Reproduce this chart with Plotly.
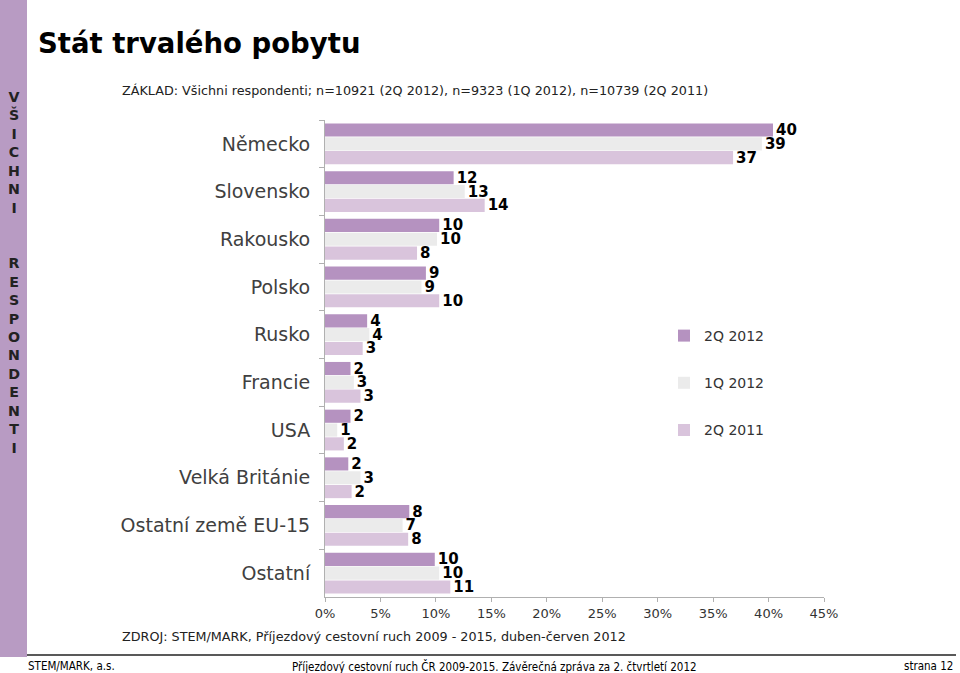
import plotly.graph_objects as go

categories = ["Německo", "Slovensko", "Rakousko", "Polsko", "Rusko", "Francie", "USA",
              "Velká Británie", "Ostatní země EU-15", "Ostatní"]
series_names = ["2Q 2012", "1Q 2012", "2Q 2011"]
v_2q2012 = [40.4, 11.6, 10.3, 9.1, 3.8, 2.3, 2.3, 2.1, 7.6, 9.9]
v_1q2012 = [39.4, 12.6, 10.1, 8.7, 4.0, 2.6, 1.1, 3.2, 7.0, 10.3]
v_2q2011 = [36.8, 14.4, 8.3, 10.3, 3.4, 3.2, 1.7, 2.4, 7.5, 11.3]
x_ticks = [0, 5, 10, 15, 20, 25, 30, 35, 40, 45]
x_ticktext = [f"{t}%" for t in x_ticks]

colors = ["#b592c0", "#ebebeb", "#d9c4dc"]
series_values = [v_2q2012, v_1q2012, v_2q2011]

W, H = 960, 673
L, R, T, B = 325, 824, 120, 597


def xp(px):
    return (px - L) / (R - L)


def yp(py):
    return (B - py) / (B - T)


fig = go.Figure()
for name, vals, col in zip(series_names, series_values, colors):
    fig.add_trace(go.Bar(
        y=categories, x=vals, name=name, orientation="h",
        marker=dict(color=col, line=dict(width=0)),
        text=vals, texttemplate="%{x:.0f}", textposition="outside",
        constraintext="none", cliponaxis=False,
        textfont=dict(family="DejaVu Sans", size=15, color="#000000", weight="bold"),
        legendgroup=name,
    ))

fig.update_layout(
    width=W, height=H,
    margin=dict(l=L, r=W - R, t=T, b=H - B),
    paper_bgcolor="white", plot_bgcolor="white",
    barmode="group", bargap=0.13, bargroupgap=0.05,
    font=dict(family="DejaVu Sans", color="#333333"),
    showlegend=True,
    legend=dict(x=xp(664), y=yp(320), xanchor="left", yanchor="top",
                traceorder="grouped", tracegroupgap=26,
                font=dict(family="DejaVu Sans", size=14, color="#333333"),
                bgcolor="rgba(0,0,0,0)"),
    xaxis=dict(range=[0, 45], tickvals=x_ticks, ticktext=x_ticktext,
               showgrid=False, zeroline=False, showline=True, linecolor="#b0b0b0",
               ticks="outside", ticklen=4, tickcolor="#b0b0b0",
               tickfont=dict(family="DejaVu Sans", size=13, color="#333333")),
    yaxis=dict(autorange="reversed", showgrid=False, zeroline=False,
               showline=True, linecolor="#b0b0b0",
               ticks="outside", ticklen=5, tickcolor="#b0b0b0", tickson="boundaries",
               ticklabelstandoff=10,
               tickfont=dict(family="DejaVu Sans", size=19, color="#404040")),
)

# sidebar band and footer rule
fig.add_shape(type="rect", xref="paper", yref="paper",
              x0=xp(0), x1=xp(27), y0=yp(657), y1=yp(0),
              fillcolor="#b89bc3", line=dict(width=0), layer="below")
fig.add_shape(type="line", xref="paper", yref="paper",
              x0=xp(27), x1=xp(956), y0=yp(655), y1=yp(655),
              line=dict(color="#222222", width=1.5))

side_text = "<br>".join(list("VŠICHNI") + ["", ""] + list("RESPONDENTI"))
footer_font = dict(family="DejaVu Sans Condensed, DejaVu Sans", size=11.5, color="#000000")
annotations = [
    dict(text="<b>Stát trvalého pobytu</b>", x=xp(36), y=yp(43), xanchor="left", yanchor="middle",
         font=dict(family="DejaVu Sans", size=27.5, color="#000000")),
    dict(text="ZÁKLAD: Všichni respondenti; n=10921 (2Q 2012), n=9323 (1Q 2012), n=10739 (2Q 2011)",
         x=xp(120), y=yp(91), xanchor="left", yanchor="middle",
         font=dict(family="DejaVu Sans", size=12.75, color="#222222")),
    dict(text="ZDROJ: STEM/MARK, Příjezdový cestovní ruch 2009 - 2015, duben-červen 2012",
         x=xp(120), y=yp(636), xanchor="left", yanchor="middle",
         font=dict(family="DejaVu Sans", size=12.75, color="#222222")),
    dict(text="<b>" + side_text + "</b>", x=xp(13.5), y=yp(87), xanchor="center", yanchor="top",
         align="center", font=dict(family="DejaVu Sans", size=14.2, color="#222222")),
    dict(text="STEM/MARK, a.s.", x=xp(26), y=yp(666), xanchor="left", yanchor="middle",
         font=footer_font),
    dict(text="Příjezdový cestovní ruch ČR 2009-2015. Závěrečná zpráva za 2. čtvrtletí 2012",
         x=xp(494), y=yp(666), xanchor="center", yanchor="middle", font=footer_font),
    dict(text="strana 12", x=xp(955), y=yp(666), xanchor="right", yanchor="middle",
         font=footer_font),
]
for a in annotations:
    a.update(xref="paper", yref="paper", showarrow=False)
fig.update_layout(annotations=annotations)

fig.write_html("out.html", config={"displayModeBar": False},
               post_script="document.body.style.margin='0';document.body.style.padding='0';")
